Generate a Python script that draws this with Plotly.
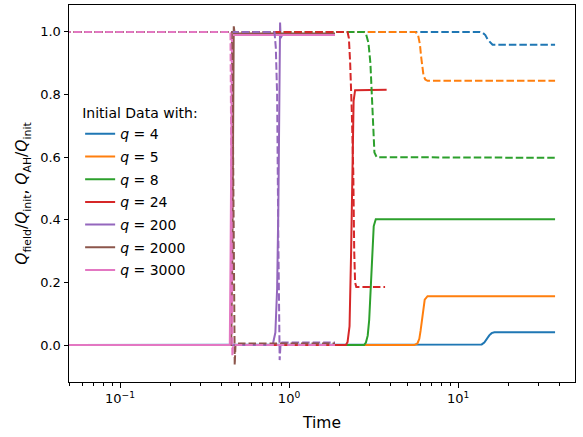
import plotly.graph_objects as go

# Mass ratios of the initial data
q_labels = ["4", "5", "8", "24", "200", "2000", "3000"]
colors = ["#1f77b4", "#ff7f0e", "#2ca02c", "#d62728", "#9467bd", "#8c564b", "#e377c2"]

# Q_field / Q_init against time, one series per q
t_field_4 = [0.04, 13.2, 13.8, 14.3, 14.8, 15.3, 15.8, 16.4, 37.5]
field_4 = [0.0, 0.0, 0.002, 0.008, 0.02, 0.031, 0.038, 0.041, 0.041]
t_field_5 = [0.04, 5.5, 5.75, 5.9, 6.0, 6.1, 6.2, 6.35, 6.6, 37.5]
field_5 = [0.0, 0.0, 0.005, 0.02, 0.045, 0.08, 0.115, 0.145, 0.156, 0.156]
t_field_8 = [0.04, 2.78, 2.85, 2.92, 2.98, 3.04, 3.1, 3.17, 3.26, 37.5]
field_8 = [0.0, 0.0, 0.008, 0.03, 0.08, 0.18, 0.3, 0.38, 0.402, 0.402]
t_field_24 = [0.04, 2.17, 2.22, 2.28, 2.33, 2.37, 2.41, 2.46, 3.78]
field_24 = [0.0, 0.0, 0.01, 0.06, 0.3, 0.6, 0.78, 0.814, 0.815]
t_field_200 = [0.04, 0.80, 0.83, 0.85, 0.865, 0.878, 0.885, 0.892, 0.91, 1.87]
field_200 = [0.0, 0.0, 0.04, 0.18, 0.45, 0.85, 1.03, 0.98, 0.99, 0.99]
t_field_2000 = [0.04, 0.455, 0.462, 0.467, 0.471, 0.478, 0.49, 1.87]
field_2000 = [0.0, 0.0, 0.3, 0.8, 1.018, 0.99, 0.995, 0.995]
t_field_3000 = [0.04, 0.446, 0.451, 0.455, 0.46, 0.47, 1.87]
field_3000 = [0.0, 0.0, 0.3, 0.85, 0.99, 0.99, 0.99]

# Q_AH / Q_init against time, one series per q
t_ah_4 = [0.04, 13.4, 14.0, 14.5, 15.0, 15.5, 16.0, 37.5]
ah_4 = [1.0, 1.0, 0.997, 0.99, 0.975, 0.965, 0.959, 0.959]
t_ah_5 = [0.04, 5.6, 5.8, 5.95, 6.05, 6.15, 6.25, 6.4, 6.6, 37.5]
ah_5 = [1.0, 1.0, 0.99, 0.96, 0.92, 0.885, 0.86, 0.848, 0.844, 0.844]
t_ah_8 = [0.04, 2.78, 2.85, 2.95, 3.03, 3.08, 3.13, 3.2, 3.3, 37.5]
ah_8 = [1.0, 1.0, 0.995, 0.965, 0.9, 0.8, 0.69, 0.615, 0.6, 0.598]
t_ah_24 = [0.04, 2.22, 2.26, 2.30, 2.35, 2.40, 2.43, 2.46, 2.50, 3.7]
ah_24 = [1.0, 1.0, 0.98, 0.9, 0.75, 0.55, 0.3, 0.2, 0.185, 0.185]
t_ah_200 = [0.04, 0.82, 0.835, 0.85, 0.862, 0.872, 0.88, 0.89, 0.91, 1.87]
ah_200 = [1.0, 1.0, 0.95, 0.8, 0.4, 0.1, -0.048, 0.0, 0.008, 0.008]
t_ah_2000 = [0.04, 0.458, 0.464, 0.469, 0.473, 0.477, 0.482, 0.49, 1.87]
ah_2000 = [1.0, 1.0, 0.8, 0.4, 0.05, -0.064, 0.0, 0.005, 0.005]
t_ah_3000 = [0.04, 0.45, 0.455, 0.459, 0.462, 0.466, 0.472, 1.87]
ah_3000 = [1.0, 1.0, 0.6, 0.1, -0.035, 0.0, 0.0, 0.0]

field_series = [
    (t_field_4, field_4), (t_field_5, field_5), (t_field_8, field_8),
    (t_field_24, field_24), (t_field_200, field_200),
    (t_field_2000, field_2000), (t_field_3000, field_3000),
]
ah_series = [
    (t_ah_4, ah_4), (t_ah_5, ah_5), (t_ah_8, ah_8), (t_ah_24, ah_24),
    (t_ah_200, ah_200), (t_ah_2000, ah_2000), (t_ah_3000, ah_3000),
]

x_major = [0.1, 1, 10]
x_major_text = ["10<sup>\u22121</sup>", "10<sup>0</sup>", "10<sup>1</sup>"]
x_minor = [0.05, 0.06, 0.07, 0.08, 0.09, 0.2, 0.3, 0.4, 0.5, 0.6, 0.7, 0.8, 0.9,
           2, 3, 4, 5, 6, 7, 8, 9, 20, 30, 40]
y_ticks = [0.0, 0.2, 0.4, 0.6, 0.8, 1.0]

FONT = "DejaVu Sans"
LW = 2.0

fig = go.Figure()

# solid: field charge
for q, c, (t, v) in zip(q_labels, colors, field_series):
    fig.add_trace(go.Scatter(
        x=t, y=v, mode="lines", name=f"<i>q</i> = {q}", legendgroup=q,
        line=dict(color=c, width=LW),
    ))

# dashed: apparent-horizon charge
for q, c, (t, v) in zip(q_labels, colors, ah_series):
    fig.add_trace(go.Scatter(
        x=t, y=v, mode="lines", showlegend=False, legendgroup=q,
        line=dict(color=c, width=LW, dash="7.5px,3px"),
    ))

axis_common = dict(
    showline=True, linecolor="black", linewidth=1, mirror=True,
    ticks="outside", tickcolor="black", ticklen=4.5, tickwidth=1,
    showgrid=False, zeroline=False,
    tickfont=dict(family=FONT, size=13, color="black"),
)

fig.update_xaxes(
    type="log", range=[-1.302, 1.692],
    tickvals=x_major, ticktext=x_major_text,
    minor=dict(ticks="outside", ticklen=2.5, tickcolor="black", tickwidth=0.8,
               tickvals=x_minor, showgrid=False),
    title=dict(text="Time", font=dict(family=FONT, size=15.5, color="black"), standoff=12),
    **axis_common,
)
fig.update_yaxes(
    range=[-0.118, 1.086],
    tickvals=y_ticks, ticktext=[f"{v:.1f}" for v in y_ticks],
    title=dict(
        text="<i>Q</i><sub>field</sub>/<i>Q</i><sub>init</sub>, "
             "<i>Q</i><sub>AH</sub>/<i>Q</i><sub>init</sub>",
        font=dict(family=FONT, size=15.5, color="black"), standoff=8,
    ),
    **axis_common,
)

fig.update_layout(
    width=583, height=437,
    margin=dict(l=69, r=8, t=5, b=55),
    paper_bgcolor="white", plot_bgcolor="white",
    font=dict(family=FONT, color="black"),
    legend=dict(
        title=dict(text="Initial Data with:", font=dict(family=FONT, size=14)),
        font=dict(family=FONT, size=14, color="black"),
        x=0.022, y=0.748, xanchor="left", yanchor="top",
        tracegroupgap=1.5,
        bgcolor="rgba(255,255,255,0)", borderwidth=0,
    ),
)

fig.write_html("out.html")
